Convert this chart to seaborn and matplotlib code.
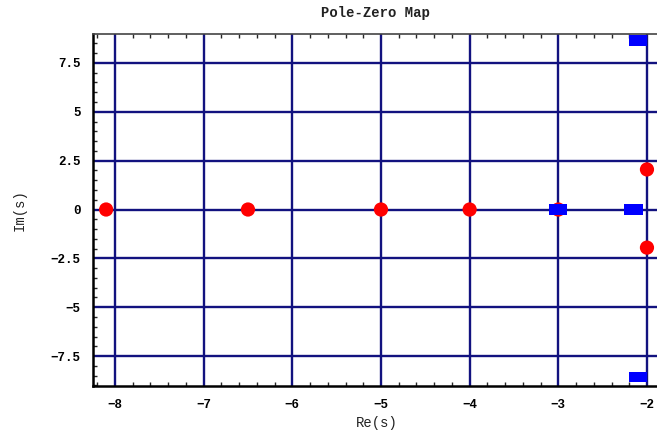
import numpy as np
import pandas as pd
import matplotlib
matplotlib.use("Agg")
import matplotlib.pyplot as plt
import seaborn as sns
from matplotlib.ticker import MultipleLocator

# datos
polos_re = [-8.1, -6.5, -5.0, -4.0, -3.0, -2.0, -2.0]
polos_im = [0.0, 0.0, 0.0, 0.0, 0.0, 2.05, -1.95]
ceros_re = [-3.0, -2.15, -2.1, -2.1]
ceros_im = [0.0, 0.0, 8.65, -8.55]
xticks = [-8, -7, -6, -5, -4, -3, -2]
yticks = [-7.5, -5, -2.5, 0, 2.5, 5, 7.5]

sns.set_style("white")
plt.rcParams["font.family"] = ["Liberation Mono", "DejaVu Sans Mono"]
plt.rcParams["font.weight"] = "bold"

df_polos = pd.DataFrame({"re": polos_re, "im": polos_im})
df_ceros = pd.DataFrame({"re": ceros_re, "im": ceros_im})

fig = plt.figure(figsize=(6.57, 4.36), dpi=100)
ax = fig.add_axes([93 / 657, 1 - 386 / 436, 567 / 657, 352 / 436])

azul_grid = "#12127f"
for x in xticks:
    ax.axvline(x, color=azul_grid, lw=1.7, zorder=1)
for y in yticks:
    ax.axhline(y, color=azul_grid, lw=1.7, zorder=1)

sns.scatterplot(data=df_polos, x="re", y="im", color="#ff0000", s=105,
                marker="o", edgecolor="none", ax=ax, zorder=3)
rect = [(-1, -0.55), (1, -0.55), (1, 0.55), (-1, 0.55), (-1, -0.55)]
sns.scatterplot(data=df_ceros, x="re", y="im", color="#0000ff", s=175,
                marker=rect, edgecolor="none", ax=ax, zorder=4)

ax.set_xlim(-8.248, -1.853)
ax.set_ylim(-9.03, 8.98)
ax.set_xticks(xticks)
ax.set_yticks(yticks)
ax.set_yticklabels(["\u22127.5", "\u22125", "\u22122.5", "0", "2.5", "5", "7.5"])
ax.set_xticklabels(["\u2212" + str(abs(t)) for t in xticks])
ax.xaxis.set_minor_locator(MultipleLocator(0.2))
ax.yaxis.set_minor_locator(MultipleLocator(0.5))
ax.tick_params(which="major", direction="in", length=6, width=1.2, top=True,
               left=True, bottom=True, labelsize=9, pad=9, colors="black")
ax.tick_params(which="minor", direction="in", length=3, width=1.0, top=True,
               left=True, bottom=True)
for lado in ["left", "bottom"]:
    ax.spines[lado].set_color("black")
    ax.spines[lado].set_linewidth(1.8)
ax.spines["top"].set_color("#444444")
ax.spines["top"].set_linewidth(1.2)
ax.spines["right"].set_visible(False)

ax.set_xlabel("Re(s)", fontsize=10, labelpad=4, color="#222222")
ax.set_ylabel("Im(s)", fontsize=10, labelpad=17, color="#222222")
fig.text(375 / 657, 1 - 13 / 436, "Pole-Zero Map", ha="center", va="center",
         fontsize=10, color="#222222")

fig.savefig("out.png", dpi=100)
plt.close()
